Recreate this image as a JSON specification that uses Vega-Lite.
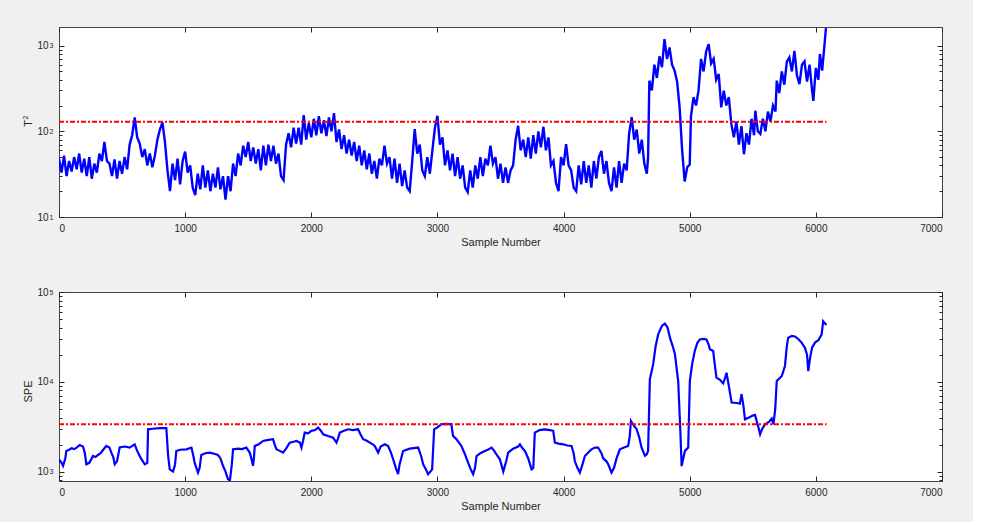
{
  "$schema": "https://vega.github.io/schema/vega-lite/v6.json",
  "background": "#f0f0f0",
  "padding": {"left": 20, "top": 26, "right": 30, "bottom": 10},
  "bounds": "flush",
  "spacing": 75,
  "config": {
    "view": {"fill": "white", "stroke": "#444444", "strokeWidth": 1},
    "axis": {"domain": false, "grid": false, "tickColor": "#262626", "tickWidth": 1, "labelColor": "#262626", "titleColor": "#262626", "labelFont": "Liberation Sans", "titleFont": "Liberation Sans", "labelFontSize": 10, "titleFontSize": 11, "titleFontWeight": "normal"}
  },
  "datasets": {
    "t2": [
      {"x":0,"y":48},{"x":20,"y":33},{"x":40,"y":52},{"x":60,"y":30},{"x":80,"y":45},{"x":100,"y":34},{"x":120,"y":50},{"x":140,"y":36},{"x":160,"y":55},{"x":180,"y":33},
      {"x":200,"y":48},{"x":220,"y":30},{"x":240,"y":50},{"x":260,"y":28},{"x":280,"y":42},{"x":300,"y":33},{"x":320,"y":55},{"x":340,"y":45},{"x":360,"y":75},{"x":380,"y":45},
      {"x":400,"y":42},{"x":420,"y":30},{"x":440,"y":47},{"x":460,"y":28},{"x":480,"y":45},{"x":500,"y":32},{"x":520,"y":50},{"x":540,"y":36},{"x":560,"y":70},{"x":580,"y":90},
      {"x":600,"y":145},{"x":620,"y":85},{"x":640,"y":72},{"x":660,"y":50},{"x":680,"y":62},{"x":700,"y":40},{"x":720,"y":55},{"x":740,"y":38},{"x":760,"y":52},{"x":780,"y":80},
      {"x":800,"y":105},{"x":820,"y":127},{"x":840,"y":75},{"x":860,"y":35},{"x":880,"y":20},{"x":900,"y":42},{"x":920,"y":27},{"x":940,"y":48},{"x":960,"y":24},{"x":980,"y":45},
      {"x":1000,"y":58},{"x":1020,"y":33},{"x":1040,"y":40},{"x":1060,"y":22},{"x":1080,"y":18},{"x":1100,"y":32},{"x":1120,"y":21},{"x":1140,"y":40},{"x":1160,"y":22},{"x":1180,"y":35},
      {"x":1200,"y":20},{"x":1220,"y":32},{"x":1240,"y":22},{"x":1260,"y":38},{"x":1280,"y":21},{"x":1300,"y":30},{"x":1320,"y":16},{"x":1340,"y":30},{"x":1360,"y":20},{"x":1380,"y":42},
      {"x":1400,"y":30},{"x":1420,"y":55},{"x":1440,"y":40},{"x":1460,"y":68},{"x":1480,"y":50},{"x":1500,"y":75},{"x":1520,"y":45},{"x":1540,"y":65},{"x":1560,"y":42},{"x":1580,"y":62},
      {"x":1600,"y":35},{"x":1620,"y":68},{"x":1640,"y":40},{"x":1660,"y":70},{"x":1680,"y":45},{"x":1700,"y":68},{"x":1720,"y":42},{"x":1740,"y":55},{"x":1760,"y":30},{"x":1780,"y":27},
      {"x":1800,"y":70},{"x":1820,"y":95},{"x":1840,"y":65},{"x":1860,"y":110},{"x":1880,"y":72},{"x":1900,"y":110},{"x":1920,"y":70},{"x":1940,"y":155},{"x":1960,"y":80},{"x":1980,"y":125},
      {"x":2000,"y":85},{"x":2020,"y":140},{"x":2040,"y":90},{"x":2060,"y":150},{"x":2080,"y":95},{"x":2100,"y":135},{"x":2120,"y":88},{"x":2140,"y":145},{"x":2160,"y":100},{"x":2180,"y":163},
      {"x":2200,"y":75},{"x":2220,"y":105},{"x":2240,"y":62},{"x":2260,"y":90},{"x":2280,"y":55},{"x":2300,"y":80},{"x":2320,"y":52},{"x":2340,"y":75},{"x":2360,"y":45},{"x":2380,"y":68},
      {"x":2400,"y":40},{"x":2420,"y":60},{"x":2440,"y":36},{"x":2460,"y":55},{"x":2480,"y":32},{"x":2500,"y":45},{"x":2520,"y":28},{"x":2540,"y":48},{"x":2560,"y":40},{"x":2580,"y":68},
      {"x":2600,"y":42},{"x":2620,"y":50},{"x":2640,"y":28},{"x":2660,"y":48},{"x":2680,"y":25},{"x":2700,"y":42},{"x":2720,"y":23},{"x":2740,"y":35},{"x":2760,"y":22},{"x":2780,"y":20},
      {"x":2800,"y":45},{"x":2820,"y":106},{"x":2840,"y":55},{"x":2860,"y":70},{"x":2880,"y":35},{"x":2900,"y":30},{"x":2920,"y":50},{"x":2940,"y":32},{"x":2960,"y":60},{"x":2980,"y":110},
      {"x":3000,"y":152},{"x":3020,"y":70},{"x":3040,"y":85},{"x":3060,"y":40},{"x":3080,"y":60},{"x":3100,"y":35},{"x":3120,"y":55},{"x":3140,"y":30},{"x":3160,"y":50},{"x":3180,"y":28},
      {"x":3200,"y":40},{"x":3220,"y":22},{"x":3240,"y":19.6},{"x":3260,"y":35},{"x":3280,"y":22},{"x":3300,"y":40},{"x":3320,"y":28},{"x":3340,"y":50},{"x":3360,"y":30},{"x":3380,"y":48},
      {"x":3400,"y":40},{"x":3420,"y":68},{"x":3440,"y":42},{"x":3460,"y":50},{"x":3480,"y":28},{"x":3500,"y":42},{"x":3520,"y":25},{"x":3540,"y":38},{"x":3560,"y":25},{"x":3580,"y":35},
      {"x":3600,"y":40},{"x":3620,"y":80},{"x":3640,"y":116},{"x":3660,"y":60},{"x":3680,"y":80},{"x":3700,"y":50},{"x":3720,"y":85},{"x":3740,"y":48},{"x":3760,"y":90},{"x":3780,"y":55},
      {"x":3800,"y":100},{"x":3820,"y":65},{"x":3840,"y":113},{"x":3860,"y":60},{"x":3880,"y":85},{"x":3900,"y":40},{"x":3920,"y":45},{"x":3940,"y":25},{"x":3960,"y":20},{"x":3980,"y":50},
      {"x":4000,"y":40},{"x":4020,"y":71},{"x":4040,"y":40},{"x":4060,"y":35},{"x":4080,"y":22},{"x":4100,"y":20},{"x":4120,"y":40},{"x":4140,"y":24},{"x":4160,"y":45},{"x":4180,"y":25},
      {"x":4200,"y":40},{"x":4220,"y":22},{"x":4240,"y":45},{"x":4260,"y":28},{"x":4280,"y":50},{"x":4300,"y":59},{"x":4320,"y":32},{"x":4340,"y":45},{"x":4360,"y":25},{"x":4380,"y":20},
      {"x":4400,"y":38},{"x":4420,"y":22},{"x":4440,"y":45},{"x":4460,"y":25},{"x":4480,"y":42},{"x":4500,"y":35},{"x":4520,"y":95},{"x":4540,"y":146},{"x":4560,"y":80},{"x":4580,"y":105},
      {"x":4600,"y":55},{"x":4620,"y":80},{"x":4640,"y":42},{"x":4660,"y":32},{"x":4670,"y":50},{"x":4680,"y":390},{"x":4700,"y":300},{"x":4720,"y":600},{"x":4740,"y":420},{"x":4760,"y":750},
      {"x":4780,"y":560},{"x":4800,"y":1190},{"x":4820,"y":700},{"x":4840,"y":950},{"x":4860,"y":600},{"x":4880,"y":511},{"x":4900,"y":380},{"x":4920,"y":190},{"x":4940,"y":60},{"x":4960,"y":26},
      {"x":4980,"y":38},{"x":5000,"y":41},{"x":5010,"y":150},{"x":5030,"y":250},{"x":5050,"y":200},{"x":5070,"y":300},{"x":5090,"y":700},{"x":5110,"y":500},{"x":5130,"y":850},{"x":5150,"y":1043},
      {"x":5170,"y":620},{"x":5190,"y":700},{"x":5210,"y":400},{"x":5230,"y":466},{"x":5250,"y":190},{"x":5270,"y":298},{"x":5290,"y":200},{"x":5310,"y":250},{"x":5330,"y":122},{"x":5350,"y":85},
      {"x":5370,"y":130},{"x":5390,"y":70},{"x":5410,"y":115},{"x":5430,"y":54},{"x":5450,"y":95},{"x":5470,"y":70},{"x":5490,"y":140},{"x":5510,"y":90},{"x":5520,"y":174},{"x":5540,"y":100},
      {"x":5560,"y":93},{"x":5580,"y":140},{"x":5600,"y":100},{"x":5620,"y":170},{"x":5640,"y":130},{"x":5660,"y":200},{"x":5680,"y":170},{"x":5690,"y":390},{"x":5710,"y":280},{"x":5730,"y":500},
      {"x":5750,"y":350},{"x":5770,"y":650},{"x":5790,"y":728},{"x":5810,"y":500},{"x":5830,"y":870},{"x":5850,"y":450},{"x":5870,"y":356},{"x":5890,"y":600},{"x":5910,"y":655},{"x":5930,"y":380},
      {"x":5950,"y":600},{"x":5970,"y":300},{"x":5980,"y":227},{"x":6000,"y":550},{"x":6020,"y":400},{"x":6032,"y":798},{"x":6050,"y":511},{"x":6065,"y":900},{"x":6080,"y":1600}
    ],
    "spe": [
      {"x":0,"y":1371},{"x":20,"y":1250},{"x":32,"y":1160},{"x":50,"y":1400},{"x":58,"y":1695},{"x":80,"y":1750},{"x":100,"y":1820},{"x":120,"y":1780},{"x":140,"y":1850},{"x":164,"y":1977},
      {"x":190,"y":1900},{"x":204,"y":1627},{"x":217,"y":1206},{"x":240,"y":1250},{"x":270,"y":1491},{"x":290,"y":1450},{"x":309,"y":1530},{"x":330,"y":1600},{"x":350,"y":1750},{"x":375,"y":1928},
      {"x":400,"y":1850},{"x":415,"y":1627},{"x":430,"y":1450},{"x":442,"y":1206},{"x":460,"y":1300},{"x":481,"y":1852},{"x":520,"y":1900},{"x":560,"y":1850},{"x":600,"y":2012},{"x":613,"y":1800},
      {"x":626,"y":1627},{"x":650,"y":1400},{"x":680,"y":1206},{"x":700,"y":1250},{"x":706,"y":2957},{"x":740,"y":3000},{"x":800,"y":3050},{"x":851,"y":3050},{"x":865,"y":1500},{"x":878,"y":1060},
      {"x":904,"y":1000},{"x":920,"y":1200},{"x":930,"y":1695},{"x":960,"y":1750},{"x":1010,"y":1770},{"x":1050,"y":1850},{"x":1065,"y":1500},{"x":1075,"y":1256},{"x":1102,"y":975},{"x":1115,"y":1100},
      {"x":1128,"y":1530},{"x":1160,"y":1600},{"x":1194,"y":1627},{"x":1230,"y":1580},{"x":1260,"y":1530},{"x":1280,"y":1400},{"x":1300,"y":1160},{"x":1320,"y":1000},{"x":1340,"y":820},{"x":1355,"y":800},
      {"x":1370,"y":1200},{"x":1380,"y":1770},{"x":1420,"y":1800},{"x":1450,"y":1780},{"x":1485,"y":1850},{"x":1512,"y":1627},{"x":1525,"y":1400},{"x":1538,"y":1160},{"x":1545,"y":1400},{"x":1552,"y":1928},
      {"x":1580,"y":2000},{"x":1618,"y":2192},{"x":1660,"y":2250},{"x":1697,"y":2290},{"x":1710,"y":2000},{"x":1724,"y":1770},{"x":1750,"y":1700},{"x":1776,"y":1627},{"x":1800,"y":1800},{"x":1829,"y":2100},
      {"x":1860,"y":2150},{"x":1882,"y":2192},{"x":1910,"y":2100},{"x":1922,"y":1850},{"x":1935,"y":2200},{"x":1948,"y":2718},{"x":1975,"y":2667},{"x":2001,"y":2840},{"x":2030,"y":2900},{"x":2054,"y":3090},
      {"x":2080,"y":2800},{"x":2094,"y":2600},{"x":2133,"y":2490},{"x":2173,"y":2390},{"x":2200,"y":2100},{"x":2210,"y":2300},{"x":2226,"y":2718},{"x":2260,"y":2850},{"x":2292,"y":2957},{"x":2330,"y":2900},
      {"x":2371,"y":2957},{"x":2390,"y":2600},{"x":2411,"y":2290},{"x":2440,"y":2200},{"x":2464,"y":2100},{"x":2490,"y":2000},{"x":2503,"y":1928},{"x":2530,"y":1627},{"x":2550,"y":1900},{"x":2583,"y":2012},
      {"x":2609,"y":1928},{"x":2630,"y":1650},{"x":2649,"y":1371},{"x":2670,"y":1100},{"x":2688,"y":935},{"x":2700,"y":1200},{"x":2728,"y":1695},{"x":2780,"y":1800},{"x":2847,"y":1850},{"x":2870,"y":1500},
      {"x":2887,"y":1206},{"x":2910,"y":1050},{"x":2926,"y":935},{"x":2945,"y":1000},{"x":2958,"y":1060},{"x":2974,"y":2957},{"x":3000,"y":3100},{"x":3031,"y":3364},{"x":3070,"y":3400},{"x":3110,"y":3364},
      {"x":3124,"y":2490},{"x":3150,"y":2300},{"x":3190,"y":1928},{"x":3215,"y":1600},{"x":3243,"y":1256},{"x":3265,"y":1050},{"x":3283,"y":935},{"x":3298,"y":1100},{"x":3310,"y":1491},{"x":3340,"y":1600},
      {"x":3376,"y":1695},{"x":3400,"y":1750},{"x":3429,"y":1850},{"x":3450,"y":1700},{"x":3475,"y":1500},{"x":3495,"y":1371},{"x":3522,"y":1000},{"x":3545,"y":1300},{"x":3561,"y":1627},{"x":3600,"y":1800},
      {"x":3640,"y":1900},{"x":3654,"y":2012},{"x":3670,"y":1850},{"x":3694,"y":1695},{"x":3720,"y":1400},{"x":3746,"y":1060},{"x":3760,"y":1100},{"x":3772,"y":2718},{"x":3810,"y":2900},{"x":3851,"y":2957},
      {"x":3890,"y":2900},{"x":3918,"y":2840},{"x":3931,"y":2100},{"x":3960,"y":2050},{"x":3997,"y":2012},{"x":4030,"y":1950},{"x":4063,"y":1928},{"x":4080,"y":1600},{"x":4089,"y":1310},{"x":4110,"y":1100},
      {"x":4129,"y":975},{"x":4150,"y":1200},{"x":4169,"y":1491},{"x":4200,"y":1650},{"x":4221,"y":1770},{"x":4250,"y":1850},{"x":4274,"y":1852},{"x":4300,"y":1600},{"x":4314,"y":1400},{"x":4340,"y":1300},
      {"x":4354,"y":1206},{"x":4380,"y":975},{"x":4400,"y":1100},{"x":4420,"y":1400},{"x":4446,"y":1770},{"x":4480,"y":1850},{"x":4512,"y":1928},{"x":4525,"y":2500},{"x":4534,"y":3660},{"x":4560,"y":3200},
      {"x":4578,"y":3000},{"x":4600,"y":2400},{"x":4618,"y":1852},{"x":4645,"y":1500},{"x":4660,"y":1560},{"x":4670,"y":1700},{"x":4684,"y":10660},{"x":4710,"y":15600},{"x":4730,"y":25000},{"x":4750,"y":33700},
      {"x":4780,"y":42000},{"x":4803,"y":44500},{"x":4825,"y":40000},{"x":4843,"y":31000},{"x":4865,"y":25000},{"x":4883,"y":20300},{"x":4909,"y":10000},{"x":4925,"y":3000},{"x":4936,"y":1150},{"x":4962,"y":1700},
      {"x":4988,"y":1850},{"x":5001,"y":10200},{"x":5020,"y":16000},{"x":5040,"y":22000},{"x":5060,"y":27000},{"x":5080,"y":29600},{"x":5110,"y":30000},{"x":5133,"y":29600},{"x":5150,"y":26000},{"x":5160,"y":23000},
      {"x":5186,"y":22000},{"x":5200,"y":15000},{"x":5212,"y":11100},{"x":5240,"y":10500},{"x":5265,"y":9600},{"x":5280,"y":11000},{"x":5292,"y":12600},{"x":5310,"y":9000},{"x":5332,"y":5870},{"x":5370,"y":5800},
      {"x":5398,"y":5700},{"x":5411,"y":7300},{"x":5425,"y":5500},{"x":5438,"y":3820},{"x":5470,"y":4000},{"x":5500,"y":4200},{"x":5518,"y":4280},{"x":5532,"y":3600},{"x":5545,"y":3090},{"x":5558,"y":2600},
      {"x":5575,"y":3000},{"x":5598,"y":3360},{"x":5630,"y":3600},{"x":5650,"y":3900},{"x":5664,"y":3360},{"x":5678,"y":5000},{"x":5690,"y":10200},{"x":5730,"y":11600},{"x":5755,"y":15000},{"x":5770,"y":25000},
      {"x":5781,"y":31000},{"x":5810,"y":32500},{"x":5834,"y":32000},{"x":5860,"y":30000},{"x":5887,"y":27300},{"x":5913,"y":24000},{"x":5930,"y":20000},{"x":5940,"y":13150},{"x":5953,"y":18000},{"x":5970,"y":24000},
      {"x":5993,"y":27300},{"x":6020,"y":29000},{"x":6046,"y":33700},{"x":6058,"y":47300},{"x":6070,"y":45000},{"x":6084,"y":43000}
    ],
    "thr1": [{"x":0,"y":129.5},{"x":6084,"y":129.5}],
    "thr2": [{"x":0,"y":3364},{"x":6084,"y":3364}]
  },
  "vconcat": [
    {
      "width": 883, "height": 190,
      "resolve": {"axis": {"x": "independent", "y": "independent"}},
      "layer": [
        {
          "data": {"name": "t2"},
          "mark": {"type": "line", "color": "#0000ff", "strokeWidth": 2.4, "clip": true},
          "encoding": {
            "x": {"field": "x", "type": "quantitative", "scale": {"domain": [0, 7000], "nice": false},
                  "axis": {"orient": "bottom", "values": [0,1000,2000,3000,4000,5000,6000,7000], "format": "d", "tickSize": -5, "labelPadding": 11, "title": "Sample Number", "titlePadding": 3}},
            "y": {"field": "y", "type": "quantitative", "scale": {"type": "log", "domain": [10, 1650], "nice": false},
                  "axis": {"orient": "left", "values": [10, 100, 1000], "labelExpr": "'10'", "labelDy": 0.5, "tickSize": -5, "labelPadding": 16, "title": "T", "titlePadding": 3, "titleY": 96}}
          }
        },
        {
          "data": {"name": "thr1"},
          "mark": {"type": "line", "color": "#ff0000", "strokeWidth": 2, "strokeDash": [5, 2, 2, 2]},
          "encoding": {
            "x": {"field": "x", "type": "quantitative", "axis": {"orient": "top", "values": [0,1000,2000,3000,4000,5000,6000,7000], "labels": false, "tickSize": -5, "title": null}},
            "y": {"field": "y", "type": "quantitative", "scale": {"type": "log"}, "axis": {"orient": "right", "values": [10, 100, 1000], "labels": false, "tickSize": -5, "title": null}}
          }
        },
        {
          "data": {"name": "thr1"},
          "mark": {"type": "line", "opacity": 0},
          "encoding": {
            "x": {"field": "x", "type": "quantitative", "axis": null},
            "y": {"field": "y", "type": "quantitative", "scale": {"type": "log"}, "axis": {"orient": "left", "values": [20,30,40,50,60,70,80,90,200,300,400,500,600,700,800,900], "labels": false, "tickSize": -3, "title": null}}
          }
        },
        {
          "data": {"name": "thr1"},
          "mark": {"type": "line", "opacity": 0},
          "encoding": {
            "x": {"field": "x", "type": "quantitative", "axis": null},
            "y": {"field": "y", "type": "quantitative", "scale": {"type": "log"}, "axis": {"orient": "right", "values": [20,30,40,50,60,70,80,90,200,300,400,500,600,700,800,900], "labels": false, "tickSize": -3, "title": null}}
          }
        },
        {
          "data": {"name": "thr1"},
          "mark": {"type": "line", "opacity": 0},
          "encoding": {
            "x": {"field": "x", "type": "quantitative", "axis": null},
            "y": {"field": "y", "type": "quantitative", "scale": {"type": "log"}, "axis": {"orient": "left", "values": [10, 100, 1000], "labelExpr": "datum.value == 10 ? '1' : datum.value == 100 ? '2' : '3'", "labelFontSize": 7, "labelDy": -3.5, "ticks": false, "labelPadding": 6, "title": "2", "titleFontSize": 7, "titlePadding": 21, "titleY": 90}}
          }
        }
      ]
    },
    {
      "width": 883, "height": 189,
      "resolve": {"axis": {"x": "independent", "y": "independent"}},
      "layer": [
        {
          "data": {"name": "spe"},
          "mark": {"type": "line", "color": "#0000ff", "strokeWidth": 2.2, "clip": true},
          "encoding": {
            "x": {"field": "x", "type": "quantitative", "scale": {"domain": [0, 7000], "nice": false},
                  "axis": {"orient": "bottom", "values": [0,1000,2000,3000,4000,5000,6000,7000], "format": "d", "tickSize": -5, "labelPadding": 11, "title": "Sample Number", "titlePadding": 3}},
            "y": {"field": "y", "type": "quantitative", "scale": {"type": "log", "domain": [785, 100000], "nice": false},
                  "axis": {"orient": "left", "values": [1000, 10000, 100000], "labelExpr": "'10'", "labelDy": 0.5, "tickSize": -5, "labelPadding": 16, "title": "SPE", "titlePadding": 3, "titleY": 99}}
          }
        },
        {
          "data": {"name": "thr2"},
          "mark": {"type": "line", "color": "#ff0000", "strokeWidth": 2, "strokeDash": [5, 2, 2, 2]},
          "encoding": {
            "x": {"field": "x", "type": "quantitative", "axis": {"orient": "top", "values": [0,1000,2000,3000,4000,5000,6000,7000], "labels": false, "tickSize": -5, "title": null}},
            "y": {"field": "y", "type": "quantitative", "scale": {"type": "log"}, "axis": {"orient": "right", "values": [1000, 10000, 100000], "labels": false, "tickSize": -5, "title": null}}
          }
        },
        {
          "data": {"name": "thr2"},
          "mark": {"type": "line", "opacity": 0},
          "encoding": {
            "x": {"field": "x", "type": "quantitative", "axis": null},
            "y": {"field": "y", "type": "quantitative", "scale": {"type": "log"}, "axis": {"orient": "left", "values": [800,900,2000,3000,4000,5000,6000,7000,8000,9000,20000,30000,40000,50000,60000,70000,80000,90000], "labels": false, "tickSize": -3, "title": null}}
          }
        },
        {
          "data": {"name": "thr2"},
          "mark": {"type": "line", "opacity": 0},
          "encoding": {
            "x": {"field": "x", "type": "quantitative", "axis": null},
            "y": {"field": "y", "type": "quantitative", "scale": {"type": "log"}, "axis": {"orient": "right", "values": [800,900,2000,3000,4000,5000,6000,7000,8000,9000,20000,30000,40000,50000,60000,70000,80000,90000], "labels": false, "tickSize": -3, "title": null}}
          }
        },
        {
          "data": {"name": "thr2"},
          "mark": {"type": "line", "opacity": 0},
          "encoding": {
            "x": {"field": "x", "type": "quantitative", "axis": null},
            "y": {"field": "y", "type": "quantitative", "scale": {"type": "log"}, "axis": {"orient": "left", "values": [1000, 10000, 100000], "labelExpr": "datum.value == 1000 ? '3' : datum.value == 10000 ? '4' : '5'", "labelFontSize": 7, "labelDy": -3.5, "ticks": false, "labelPadding": 6, "title": null}}
          }
        }
      ]
    }
  ]
}
